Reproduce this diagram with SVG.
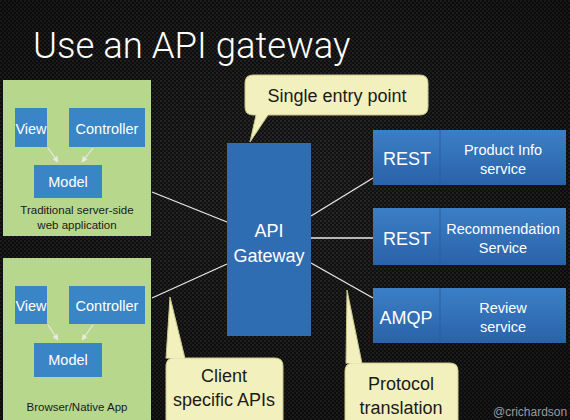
<svg xmlns="http://www.w3.org/2000/svg" width="570" height="420" viewBox="0 0 570 420">
<defs>
<pattern id="carbon" width="4" height="4" patternUnits="userSpaceOnUse">
<rect width="4" height="4" fill="#121212"/>
<circle cx="1" cy="1" r="1.1" fill="#2c2c2c"/>
<circle cx="3" cy="3" r="1.1" fill="#252525"/>
</pattern>
<radialGradient id="vign" cx="50%" cy="45%" r="70%">
<stop offset="0" stop-color="#000" stop-opacity="0"/>
<stop offset="1" stop-color="#000" stop-opacity="0.45"/>
</radialGradient>
<linearGradient id="svc" x1="0" y1="0" x2="0" y2="1">
<stop offset="0" stop-color="#3b7fc6"/>
<stop offset="1" stop-color="#2a62a8"/>
</linearGradient>
<style>
.t{font-family:"Liberation Sans",Arial,sans-serif;}
.w{fill:#fff;}
.k{fill:#1a1a1a;}
.green{fill:#b7d78d;}
.mvc{fill:#3a85c6;}
.call{fill:#f2f1bd;stroke:#c9c78a;stroke-width:1;}
.conn{stroke:#e8e8e8;stroke-width:1.3;fill:none;}
.arr{stroke:#e8e8e8;stroke-width:1.2;fill:none;marker-end:url(#ah);}
</style>
<marker id="ah" viewBox="0 0 10 10" refX="9" refY="5" markerWidth="5" markerHeight="5" orient="auto">
<path d="M0,0 L10,5 L0,10 z" fill="#e8e8e8"/>
</marker>
</defs>
<rect width="570" height="420" fill="url(#carbon)"/>
<rect width="570" height="420" fill="url(#vign)"/>

<text class="t w" x="33" y="58" font-size="36.5" font-weight="300" style="font-family:Roboto,'Liberation Sans',sans-serif">Use an API gateway</text>

<g id="connectors">
<line class="conn" x1="152" y1="192" x2="227" y2="222"/>
<line class="conn" x1="152" y1="298" x2="227" y2="264"/>
<line class="conn" x1="311" y1="216" x2="373" y2="178"/>
<line class="conn" x1="311" y1="238" x2="373" y2="238"/>
<line class="conn" x1="311" y1="263" x2="373" y2="298"/>
</g>

<g id="web-app">
<rect class="green" x="3" y="80" width="148" height="156"/>
<rect class="mvc" x="15" y="108" width="32" height="39"/>
<text class="t w" x="31" y="134" font-size="14.5" text-anchor="middle">View</text>
<rect class="mvc" x="69" y="108" width="76" height="39"/>
<text class="t w" x="107" y="134" font-size="14.5" text-anchor="middle">Controller</text>
<rect class="mvc" x="34" y="165" width="68" height="33"/>
<text class="t w" x="68" y="187" font-size="14.5" text-anchor="middle">Model</text>
<line class="arr" x1="48" y1="148" x2="58" y2="162"/>
<line class="arr" x1="93" y1="148" x2="82" y2="162"/>
<text class="t k" x="77" y="214" font-size="11.5" text-anchor="middle">Traditional server-side</text>
<text class="t k" x="77" y="229" font-size="11.5" text-anchor="middle">web application</text>
</g>

<g id="native-app">
<rect class="green" x="3" y="258" width="148" height="162"/>
<rect class="mvc" x="15" y="286" width="32" height="38"/>
<text class="t w" x="31" y="311" font-size="14.5" text-anchor="middle">View</text>
<rect class="mvc" x="69" y="286" width="76" height="38"/>
<text class="t w" x="107" y="311" font-size="14.5" text-anchor="middle">Controller</text>
<rect class="mvc" x="34" y="343" width="68" height="34"/>
<text class="t w" x="68" y="365" font-size="14.5" text-anchor="middle">Model</text>
<line class="arr" x1="48" y1="325" x2="58" y2="340"/>
<line class="arr" x1="93" y1="325" x2="82" y2="340"/>
<text class="t k" x="77" y="411" font-size="11.5" text-anchor="middle">Browser/Native App</text>
</g>

<g id="gateway">
<rect x="227" y="143" width="84" height="193" fill="#2f6db3"/>
<text class="t w" x="269" y="237" font-size="18" text-anchor="middle">API</text>
<text class="t w" x="269" y="262" font-size="18" text-anchor="middle">Gateway</text>
</g>

<g id="product-info">
<rect x="373" y="130" width="193" height="55" fill="url(#svc)"/>
<line x1="440" y1="130" x2="440" y2="185" stroke="#2a5f9f" stroke-width="1"/>
<text class="t w" x="407" y="165" font-size="18" text-anchor="middle">REST</text>
<text class="t w" x="503" y="155" font-size="14.5" text-anchor="middle">Product Info</text>
<text class="t w" x="503" y="174" font-size="14.5" text-anchor="middle">service</text>
</g>

<g id="recommendation">
<rect x="373" y="208" width="193" height="57" fill="url(#svc)"/>
<line x1="440" y1="208" x2="440" y2="265" stroke="#2a5f9f" stroke-width="1"/>
<text class="t w" x="407" y="245" font-size="18" text-anchor="middle">REST</text>
<text class="t w" x="503" y="234" font-size="14.5" text-anchor="middle">Recommendation</text>
<text class="t w" x="503" y="253" font-size="14.5" text-anchor="middle">Service</text>
</g>

<g id="review">
<rect x="373" y="288" width="193" height="55" fill="url(#svc)"/>
<line x1="440" y1="288" x2="440" y2="343" stroke="#2a5f9f" stroke-width="1"/>
<text class="t w" x="406" y="324" font-size="18" text-anchor="middle">AMQP</text>
<text class="t w" x="503" y="313" font-size="14.5" text-anchor="middle">Review</text>
<text class="t w" x="503" y="332" font-size="14.5" text-anchor="middle">service</text>
</g>

<g id="callout-entry">
<path class="call" d="M253,75 H420 Q428,75 428,83 V107 Q428,115 420,115 H268 L250,142 L256,115 H253 Q245,115 245,107 V83 Q245,75 253,75 Z"/>
<text class="t k" x="337" y="102" font-size="18" text-anchor="middle">Single entry point</text>
</g>

<g id="callout-client">
<path class="call" d="M174,358 H275 Q283,358 283,366 V424 H166 V366 Q166,358 174,358 Z"/>
<path d="M166,358.5 L170,297 L185,358.5" fill="#f2f1bd" stroke="#c9c78a" stroke-width="1"/>
<text class="t k" x="224" y="382" font-size="18" text-anchor="middle">Client</text>
<text class="t k" x="224" y="406" font-size="18" text-anchor="middle">specific APIs</text>
</g>

<g id="callout-protocol">
<path class="call" d="M353,363 H450 Q458,363 458,371 V424 H345 V371 Q345,363 353,363 Z"/>
<path d="M346,363.5 L347,290 L362,363.5" fill="#f2f1bd" stroke="#c9c78a" stroke-width="1"/>
<text class="t k" x="401" y="390" font-size="18" text-anchor="middle">Protocol</text>
<text class="t k" x="401" y="414" font-size="18" text-anchor="middle">translation</text>
</g>

<text class="t" x="493" y="416" font-size="12" fill="#9a9a9a">@crichardson</text>
</svg>
